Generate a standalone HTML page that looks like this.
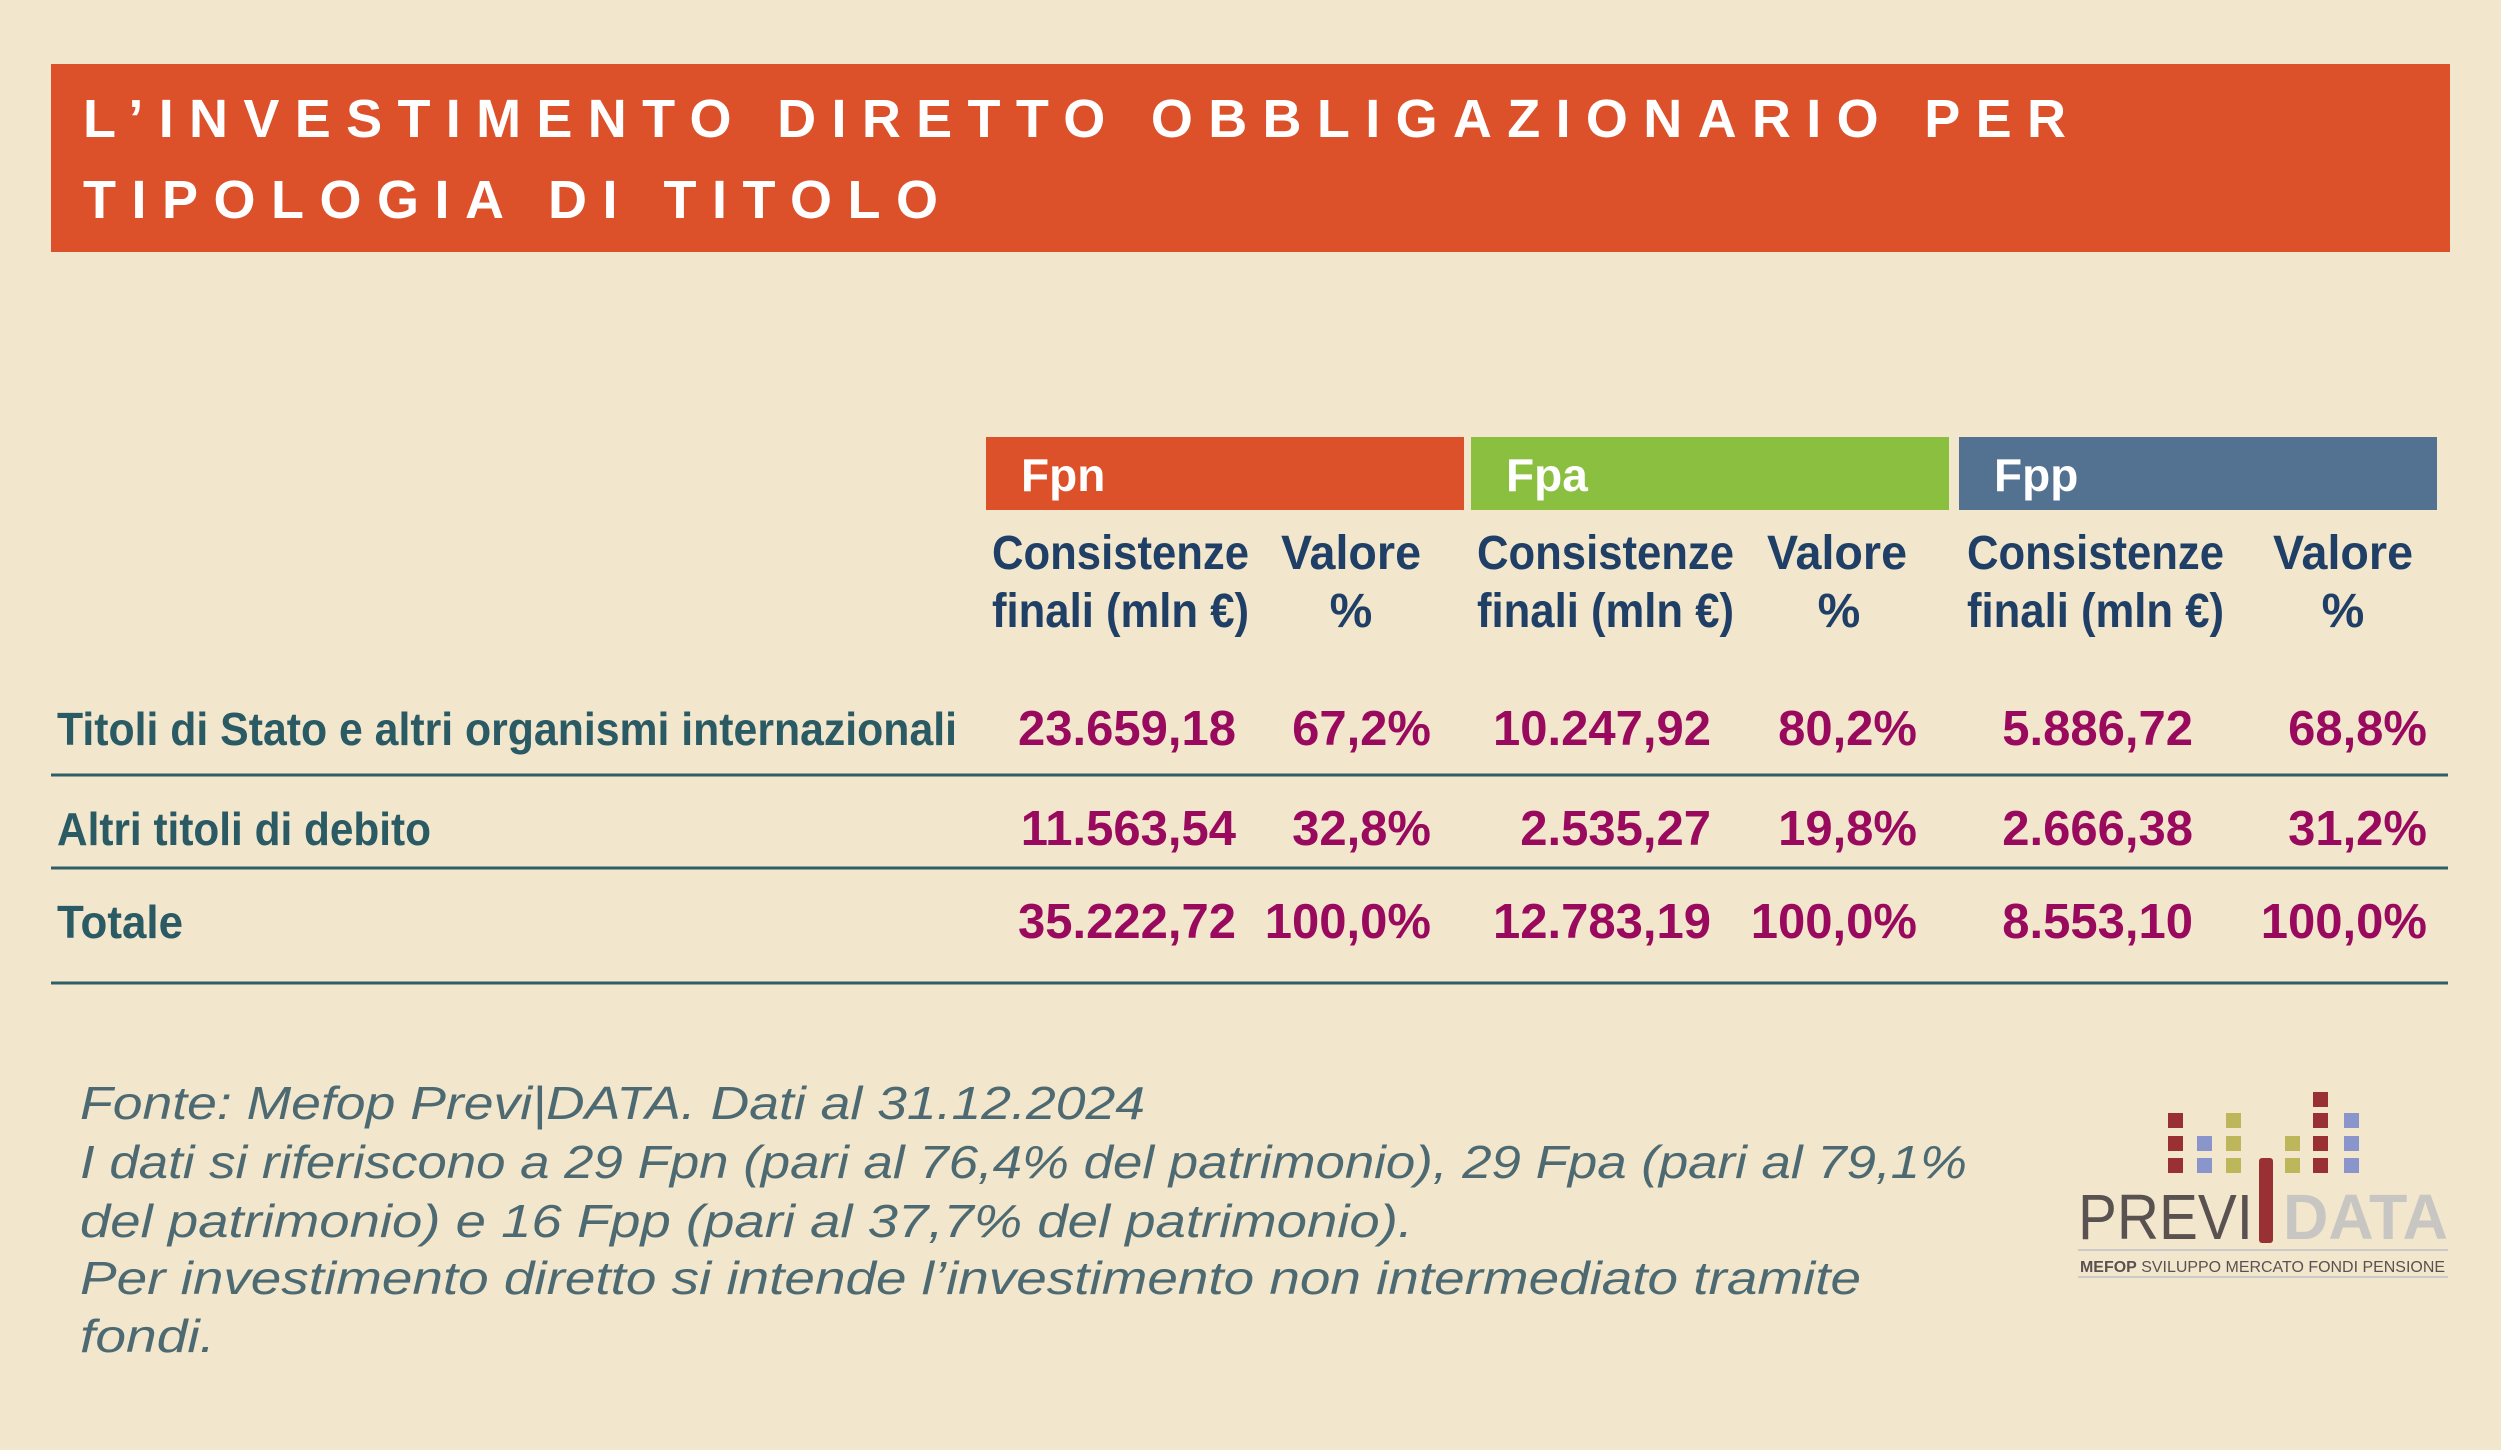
<!DOCTYPE html>
<html><head><meta charset="utf-8"><style>
html,body{margin:0;padding:0;background:#f2e6cc;}
svg{display:block;font-family:"Liberation Sans",sans-serif;}
</style></head><body>
<svg id="chart" width="2501" height="1450" viewBox="0 0 2501 1450">
<rect x="0" y="0" width="2501" height="1450" fill="#f2e6cc"/>
<g>
<rect x="51" y="64" width="2399" height="188" fill="#dc502a"/>
<text x="83" y="137" font-size="54" font-weight="bold" fill="#fff" textLength="1983" lengthAdjust="spacing">L’INVESTIMENTO DIRETTO OBBLIGAZIONARIO PER</text>
<text x="83" y="218" font-size="54" font-weight="bold" fill="#fff" textLength="855" lengthAdjust="spacing">TIPOLOGIA DI TITOLO</text>
</g>
<g id="table"></g>
<g font-style="italic" font-size="46" fill="#4d6a72">
<text x="80" y="1119" textLength="1065" lengthAdjust="spacingAndGlyphs">Fonte: Mefop Previ|DATA. Dati al 31.12.2024</text>
<text x="80" y="1178" textLength="1887" lengthAdjust="spacingAndGlyphs">I dati si riferiscono a 29 Fpn (pari al 76,4% del patrimonio), 29 Fpa (pari al 79,1%</text>
<text x="80" y="1237" textLength="1333" lengthAdjust="spacingAndGlyphs">del patrimonio) e 16 Fpp (pari al 37,7% del patrimonio).</text>
<text x="80" y="1294" textLength="1781" lengthAdjust="spacingAndGlyphs">Per investimento diretto si intende l’investimento non intermediato tramite</text>
<text x="80" y="1352" textLength="135" lengthAdjust="spacingAndGlyphs">fondi.</text>
</g>
<g id="logo">
<rect x="2259" y="1158" width="14" height="85" rx="3" fill="#993034"/>
<text x="2078" y="1239" font-size="64" fill="#5a5250" textLength="175" lengthAdjust="spacingAndGlyphs">PREVI</text>
<text x="2283" y="1239" font-size="64" font-weight="bold" fill="#c8c6c3" textLength="165" lengthAdjust="spacingAndGlyphs">DATA</text>
<line x1="2078" y1="1250" x2="2448" y2="1250" stroke="#bcc2c8" stroke-width="1.5"/>
<text x="2080" y="1272" font-size="16" fill="#5a5250" textLength="365" lengthAdjust="spacingAndGlyphs"><tspan font-weight="bold">MEFOP</tspan> SVILUPPO MERCATO FONDI PENSIONE</text>
<line x1="2078" y1="1277" x2="2448" y2="1277" stroke="#bcc2c8" stroke-width="1.5"/>
</g>
</svg>
<script>
const funds = ["Fpn","Fpa","Fpp"];
const rowLabels = ["Titoli di Stato e altri organismi internazionali","Altri titoli di debito","Totale"];
const fpnValues = ["23.659,18","11.563,54","35.222,72"];
const fpnPercents = ["67,2%","32,8%","100,0%"];
const fpaValues = ["10.247,92","2.535,27","12.783,19"];
const fpaPercents = ["80,2%","19,8%","100,0%"];
const fppValues = ["5.886,72","2.666,38","8.553,10"];
const fppPercents = ["68,8%","31,2%","100,0%"];

const NS="http://www.w3.org/2000/svg";
const tbl=document.getElementById('table');
function mk(tag,attrs,txt){const e=document.createElementNS(NS,tag);for(const k in attrs)e.setAttribute(k,attrs[k]);if(txt!==undefined)e.textContent=txt;tbl.appendChild(e);return e;}
const bandColors=["#dc502a","#8bbf40","#537191"];
const bandX=[986,1471,1959], bandW=[478,478,478];
const consX=[992,1477,1967], valX=[1281,1767,2273], pctC=[1351,1839,2343];
const numR=[1236,1711,2193], pctR=[1431,1917,2427];
const rowY=[745,845,938];
const valuesByFund=[fpnValues,fpaValues,fppValues];
const pctByFund=[fpnPercents,fpaPercents,fppPercents];
funds.forEach((f,i)=>{
  let r=mk('rect',{x:bandX[i],y:437,width:bandW[i],height:73,fill:bandColors[i]});
  
  
  let t=mk('text',{x:bandX[i]+35,y:491,'font-size':46,'font-weight':'bold',fill:'#fff'},f);
  
  
  let h1=mk('text',{x:consX[i],y:569,'font-size':48,'font-weight':'bold',fill:'#1f3f66',textLength:257,lengthAdjust:'spacingAndGlyphs'},'Consistenze');
  
  
  let h2=mk('text',{x:consX[i],y:627,'font-size':48,'font-weight':'bold',fill:'#1f3f66',textLength:257,lengthAdjust:'spacingAndGlyphs'},'finali (mln €)');
  
  
  let h3=mk('text',{x:valX[i],y:569,'font-size':48,'font-weight':'bold',fill:'#1f3f66',textLength:140,lengthAdjust:'spacingAndGlyphs'},'Valore');
  
  
  let h4=mk('text',{x:pctC[i],y:627,'font-size':48,'font-weight':'bold',fill:'#1f3f66','text-anchor':'middle'},'%');
  
  
  rowY.forEach((y,j)=>{
    let v=mk('text',{x:numR[i],y:y,'font-size':49,'font-weight':'bold',fill:'#990a5e','text-anchor':'end'},valuesByFund[i][j]);
    
    
    let p=mk('text',{x:pctR[i],y:y,'font-size':49,'font-weight':'bold',fill:'#990a5e','text-anchor':'end'},pctByFund[i][j]);
    
    
  });
});
const labelW=[900,374,126];
rowLabels.forEach((l,j)=>{
  let t=mk('text',{x:57,y:rowY[j],'font-size':46,'font-weight':'bold',fill:'#2a5a63',textLength:labelW[j],lengthAdjust:'spacingAndGlyphs'},l);
  
  
});
[775,868,983].forEach((y,k)=>{
  let ln=mk('line',{x1:51,y1:y,x2:2448,y2:y,stroke:'#2f5e66','stroke-width':3});
  
  
});
const logo=document.getElementById('logo');
const sqCols=[2168,2197,2226,2285,2313,2344];
const sqRows=[1092,1113,1136,1158];
const sqSpec=[["#993034",[1,2,3]],["#8a95cc",[2,3]],["#bdb65a",[1,2,3]],["#bdb65a",[2,3]],["#993034",[0,1,2,3]],["#8a95cc",[1,2,3]]];
sqSpec.forEach((s,c)=>{s[1].forEach(r=>{
  const e=document.createElementNS(NS,'rect');
  e.setAttribute('x',sqCols[c]);e.setAttribute('y',sqRows[r]);e.setAttribute('width',15);e.setAttribute('height',15);e.setAttribute('fill',s[0]);
  
  
  logo.appendChild(e);
});});
</script>
</body></html>
